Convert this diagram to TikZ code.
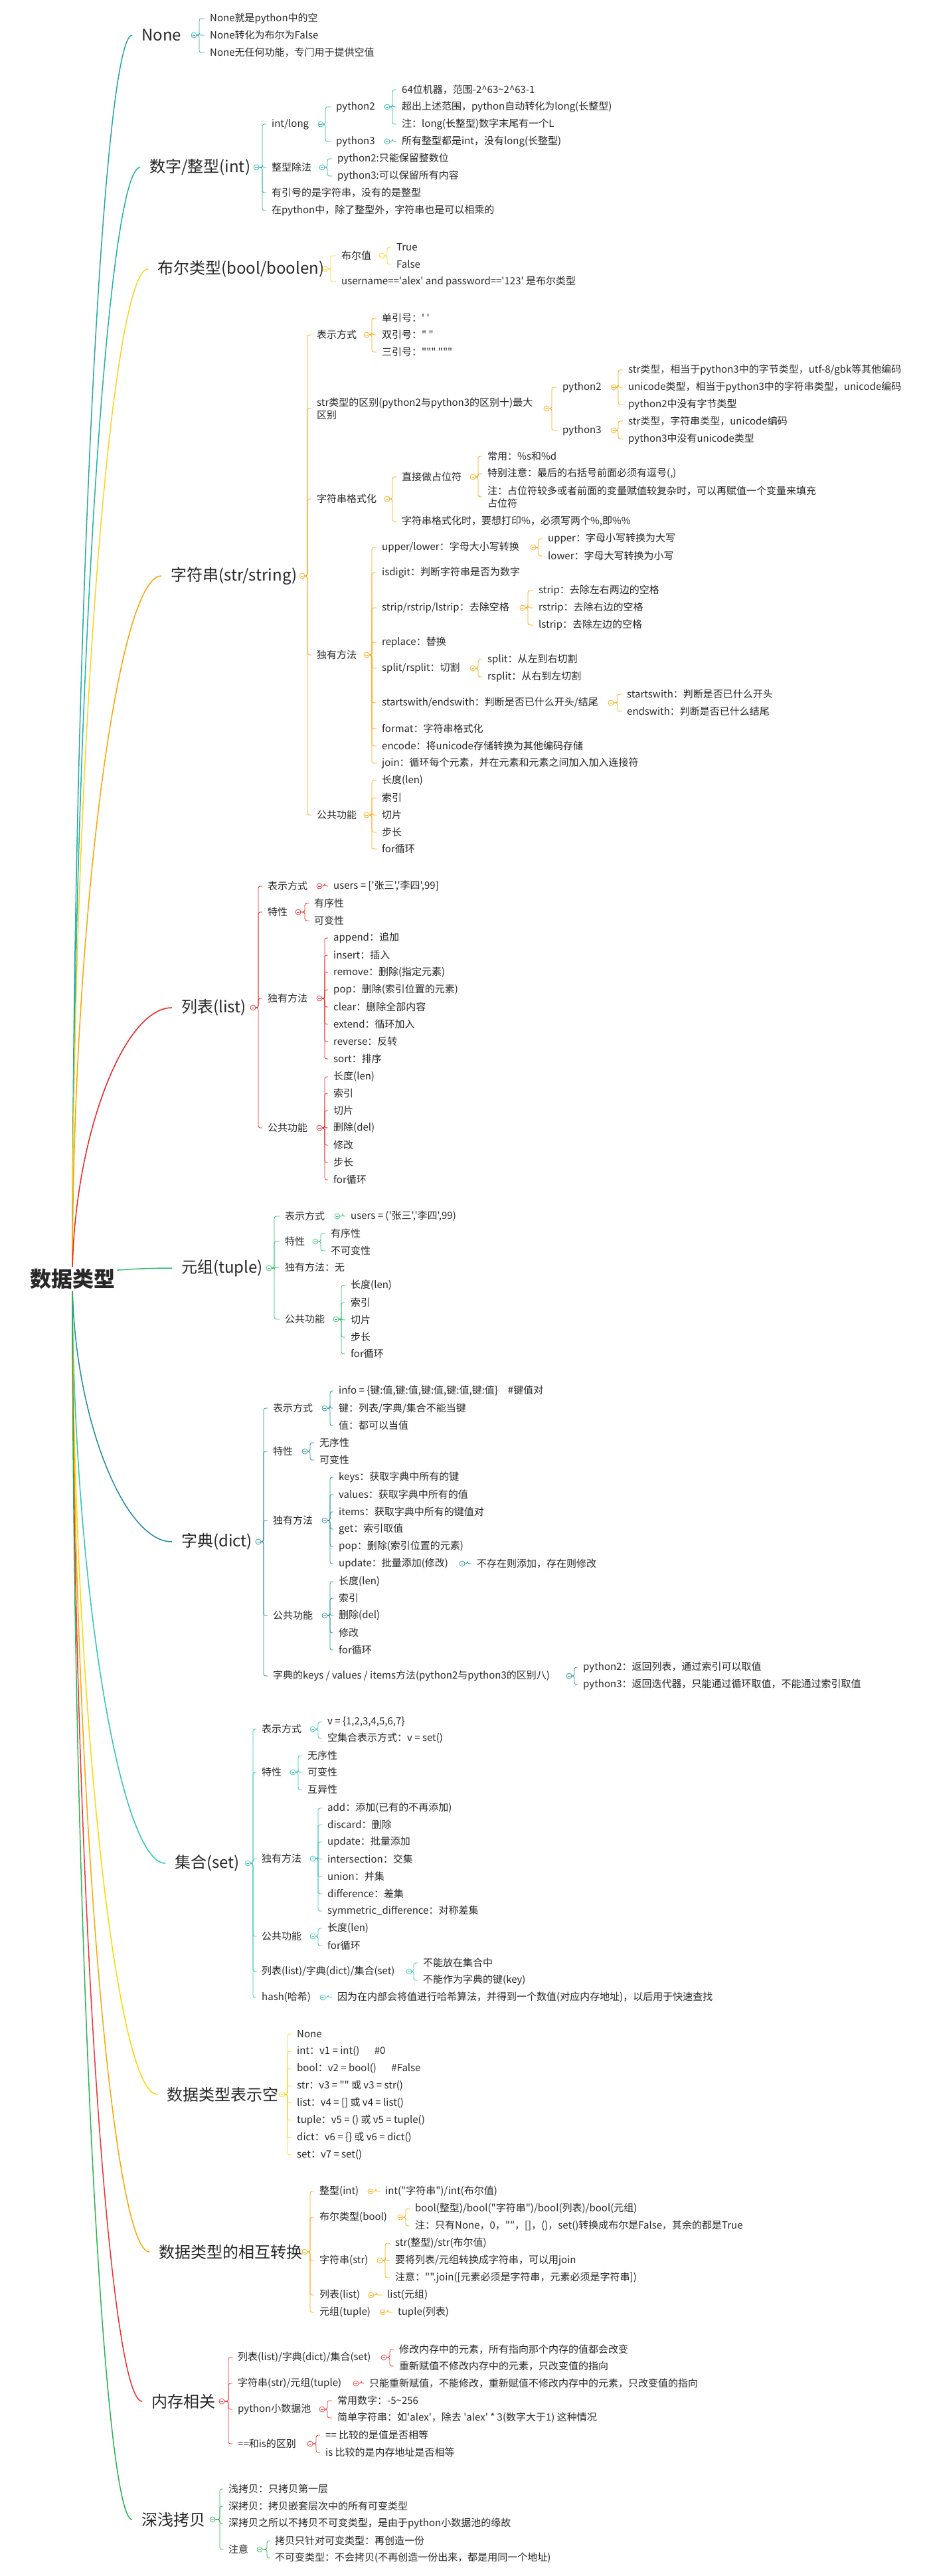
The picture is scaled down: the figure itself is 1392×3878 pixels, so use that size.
\documentclass[tikz,border=0pt]{standalone}
\usepackage{fontspec}
\newfontfamily\cjk{Noto Sans CJK SC}
\usetikzlibrary{calc,backgrounds}
\definecolor{txt}{RGB}{40,40,40}
\definecolor{cA}{HTML}{26A6A6}
\definecolor{cB}{HTML}{1FB3A0}
\definecolor{cC}{HTML}{FFD21F}
\definecolor{cD}{HTML}{FFA300}
\definecolor{cE}{HTML}{F02020}
\definecolor{cF}{HTML}{2DBE6C}
\definecolor{cG}{HTML}{1E8CA0}
\definecolor{cH}{HTML}{2EC4B6}
\definecolor{cI}{HTML}{FFD700}
\definecolor{cJ}{HTML}{FFA500}
\definecolor{cK}{HTML}{F03030}
\definecolor{cL}{HTML}{28B450}
\newcommand\fs{\cjk\fontsize{15}{19}\selectfont}
\newcommand\ft{\cjk\fontsize{24}{28}\selectfont}
\newcommand\fr{\cjk\bfseries\fontsize{32}{36}\selectfont}
\tikzset{
 leaf/.style={anchor=west,inner xsep=0pt,inner ysep=1pt,font=\fs,text=txt,align=left},
 topic/.style={anchor=west,inner sep=0pt,font=\ft,text=txt},
 mk/.style={circle,draw=#1,fill=white,line width=0.7pt,minimum size=8pt,inner sep=0pt,
   path picture={\draw[#1,line width=0.7pt] ([xshift=-2.2pt]path picture bounding box.center)--([xshift=2.2pt]path picture bounding box.center);}},
 br/.style={draw=#1,line width=0.8pt,rounded corners=3pt},
 mainline/.style={draw=#1,line width=1.5pt},
}
\newcommand\mkc[5]{\node[mk=#1] (#2-c) at (#3,#4) {}; \coordinate (#2-s) at (#5,#4);}
\newcommand\kids[3]{\foreach \k in {#3} {\draw[br=#1] (#2-c.east) -- (#2-c.east -| #2-s) -- (#2-s |- \k.west) -- ([xshift=-8pt]\k.west);}}
\newcommand\mainbr[2]{\draw[mainline=#1] let \p1=(root.center), \p2=([xshift=-14pt]#2.west) in (\p1) .. controls (\x1,{0.5*\y1+0.5*\y2}) and ({0.5*\x1+0.5*\x2},\y2) .. (\p2);}
\begin{document}
\begin{tikzpicture}[x=1pt,y=-1pt]
\useasboundingbox (0,0) rectangle (1392,3878);
% root
\node[font=\fr,text=txt,fill=white,inner sep=3pt] (root) at (109,1925) {数据类型};
% ---------- None
\node[topic] (none) at (213,53) {None};
\mkc{cA}{none}{292}{53}{300}
\node[leaf] (none1) at (316,28) {None就是python中的空};
\node[leaf] (none2) at (316,53) {None转化为布尔为False};
\node[leaf] (none3) at (316,79) {None无任何功能，专门用于提供空值};
\kids{cA}{none}{none1,none2,none3}
% ---------- 数字
\node[topic] (num) at (225,252) {数字/整型(int)};
\mkc{cB}{num}{386}{252}{395}
\node[leaf] (numA) at (409,187) {int/long};
\node[leaf] (numB) at (409,252) {整型除法};
\node[leaf] (numC) at (409,290) {有引号的是字符串，没有的是整型};
\node[leaf] (numD) at (409,317) {在python中，除了整型外，字符串也是可以相乘的};
\kids{cB}{num}{numA,numB,numC,numD}
\mkc{cB}{numA}{483}{187}{490}
\node[leaf] (numA1) at (506,161) {python2};
\node[leaf] (numA2) at (506,213) {python3};
\kids{cB}{numA}{numA1,numA2}
\mkc{cB}{numA1}{583}{161}{591}
\node[leaf] (numA1a) at (605,135) {64位机器，范围-2\textasciicircum63\textasciitilde2\textasciicircum63-1};
\node[leaf] (numA1b) at (605,161) {超出上述范围，python自动转化为long(长整型)};
\node[leaf] (numA1c) at (605,187) {注：long(长整型)数字末尾有一个L};
\kids{cB}{numA1}{numA1a,numA1b,numA1c}
\mkc{cB}{numA2}{583}{213}{591}
\node[leaf] (numA2a) at (605,213) {所有整型都是int，没有long(长整型)};
\kids{cB}{numA2}{numA2a}
\mkc{cB}{numB}{485}{252}{493}
\node[leaf] (numB1) at (508,239) {python2:只能保留整数位};
\node[leaf] (numB2) at (508,265) {python3:可以保留所有内容};
\kids{cB}{numB}{numB1,numB2}
% ---------- 布尔
\node[topic] (bool) at (237,405) {布尔类型(bool/boolen)};
\mkc{cC}{bool}{490}{405}{498}
\node[leaf] (boolA) at (514,385) {布尔值};
\node[leaf] (boolB) at (514,424) {username=='alex' and password=='123' 是布尔类型};
\kids{cC}{bool}{boolA,boolB}
\mkc{cC}{boolA}{575}{385}{583}
\node[leaf] (boolA1) at (597,372) {True};
\node[leaf] (boolA2) at (597,398) {False};
\kids{cC}{boolA}{boolA1,boolA2}
% ---------- 字符串
\node[topic] (str) at (257,867) {字符串(str/string)};
\mkc{cD}{str}{455}{867}{463}
\node[leaf] (strA) at (477,504) {表示方式};
\node[leaf] (strB) at (477,615) {str类型的区别(python2与python3的区别十)最大\\区别};
\node[leaf] (strC) at (477,751) {字符串格式化};
\node[leaf] (strD) at (477,986) {独有方法};
\node[leaf] (strE) at (477,1227) {公共功能};
\kids{cD}{str}{strA,strB,strC,strD,strE}
\mkc{cD}{strA}{552}{504}{560}
\node[leaf] (strA1) at (575,479) {单引号：' '};
\node[leaf] (strA2) at (575,504) {双引号：" "};
\node[leaf] (strA3) at (575,530) {三引号：""" """};
\kids{cD}{strA}{strA1,strA2,strA3}
\mkc{cD}{strB}{823}{615}{831}
\node[leaf] (strB1) at (847,583) {python2};
\node[leaf] (strB2) at (847,648) {python3};
\kids{cD}{strB}{strB1,strB2}
\mkc{cD}{strB1}{924}{583}{931}
\node[leaf] (strB1a) at (946,557) {str类型，相当于python3中的字节类型，utf-8/gbk等其他编码};
\node[leaf] (strB1b) at (946,583) {unicode类型，相当于python3中的字符串类型，unicode编码};
\node[leaf] (strB1c) at (946,609) {python2中没有字节类型};
\kids{cD}{strB1}{strB1a,strB1b,strB1c}
\mkc{cD}{strB2}{924}{648}{931}
\node[leaf] (strB2a) at (946,634) {str类型，字符串类型，unicode编码};
\node[leaf] (strB2b) at (946,661) {python3中没有unicode类型};
\kids{cD}{strB2}{strB2a,strB2b}
\mkc{cD}{strC}{583}{751}{591}
\node[leaf] (strC1) at (605,718) {直接做占位符};
\node[leaf] (strC2) at (605,785) {字符串格式化时，要想打印\%，必须写两个\%,即\%\%};
\kids{cD}{strC}{strC1,strC2}
\mkc{cD}{strC1}{712}{718}{720}
\node[leaf] (strC1a) at (734,687) {常用：\%s和\%d};
\node[leaf] (strC1b) at (734,713) {特别注意：最后的右括号前面必须有逗号(,)};
\node[leaf] (strC1c) at (734,748) {注：占位符较多或者前面的变量赋值较复杂时，可以再赋值一个变量来填充\\占位符};
\kids{cD}{strC1}{strC1a,strC1b,strC1c}
\mkc{cD}{strD}{552}{986}{560}
\node[leaf] (strD1) at (575,824) {upper/lower：字母大小写转换};
\node[leaf] (strD2) at (575,862) {isdigit：判断字符串是否为数字};
\node[leaf] (strD3) at (575,915) {strip/rstrip/lstrip：去除空格};
\node[leaf] (strD4) at (575,967) {replace：替换};
\node[leaf] (strD5) at (575,1006) {split/rsplit：切割};
\node[leaf] (strD6) at (575,1058) {startswith/endswith：判断是否已什么开头/结尾};
\node[leaf] (strD7) at (575,1097) {format：字符串格式化};
\node[leaf] (strD8) at (575,1123) {encode：将unicode存储转换为其他编码存储};
\node[leaf] (strD9) at (575,1149) {join：循环每个元素，并在元素和元素之间加入加入连接符};
\kids{cD}{strD}{strD1,strD2,strD3,strD4,strD5,strD6,strD7,strD8,strD9}
\mkc{cD}{strD1}{803}{824}{811}
\node[leaf] (strD1a) at (825,811) {upper：字母小写转换为大写};
\node[leaf] (strD1b) at (825,837) {lower：字母大写转换为小写};
\kids{cD}{strD1}{strD1a,strD1b}
\mkc{cD}{strD3}{787}{915}{795}
\node[leaf] (strD3a) at (811,889) {strip：去除左右两边的空格};
\node[leaf] (strD3b) at (811,915) {rstrip：去除右边的空格};
\node[leaf] (strD3c) at (811,941) {lstrip：去除左边的空格};
\kids{cD}{strD3}{strD3a,strD3b,strD3c}
\mkc{cD}{strD5}{712}{1006}{720}
\node[leaf] (strD5a) at (734,993) {split：从左到右切割};
\node[leaf] (strD5b) at (734,1019) {rsplit：从右到左切割};
\kids{cD}{strD5}{strD5a,strD5b}
\mkc{cD}{strD6}{920}{1058}{930}
\node[leaf] (strD6a) at (944,1045) {startswith：判断是否已什么开头};
\node[leaf] (strD6b) at (944,1071) {endswith：判断是否已什么结尾};
\kids{cD}{strD6}{strD6a,strD6b}
\mkc{cD}{strE}{552}{1227}{560}
\node[leaf] (strE1) at (575,1175) {长度(len)};
\node[leaf] (strE2) at (575,1201) {索引};
\node[leaf] (strE3) at (575,1227) {切片};
\node[leaf] (strE4) at (575,1253) {步长};
\node[leaf] (strE5) at (575,1278) {for循环};
\kids{cD}{strE}{strE1,strE2,strE3,strE4,strE5}
% ---------- 列表
\node[topic] (list) at (273,1517) {列表(list)};
\mkc{cE}{list}{381}{1517}{389}
\node[leaf] (listA) at (403,1334) {表示方式};
\node[leaf] (listB) at (403,1373) {特性};
\node[leaf] (listC) at (403,1503) {独有方法};
\node[leaf] (listD) at (403,1698) {公共功能};
\kids{cE}{list}{listA,listB,listC,listD}
\mkc{cE}{listA}{481}{1334}{489}
\node[leaf] (listA1) at (502,1334) {users = ['张三','李四',99]};
\kids{cE}{listA}{listA1}
\mkc{cE}{listB}{449}{1373}{459}
\node[leaf] (listB1) at (473,1360) {有序性};
\node[leaf] (listB2) at (473,1386) {可变性};
\kids{cE}{listB}{listB1,listB2}
\mkc{cE}{listC}{481}{1503}{489}
\node[leaf] (listC1) at (502,1412) {append：追加};
\node[leaf] (listC2) at (502,1438) {insert：插入};
\node[leaf] (listC3) at (502,1464) {remove：删除(指定元素)};
\node[leaf] (listC4) at (502,1490) {pop：删除(索引位置的元素)};
\node[leaf] (listC5) at (502,1516) {clear：删除全部内容};
\node[leaf] (listC6) at (502,1542) {extend：循环加入};
\node[leaf] (listC7) at (502,1568) {reverse：反转};
\node[leaf] (listC8) at (502,1594) {sort：排序};
\kids{cE}{listC}{listC1,listC2,listC3,listC4,listC5,listC6,listC7,listC8}
\mkc{cE}{listD}{481}{1698}{489}
\node[leaf] (listD1) at (502,1621) {长度(len)};
\node[leaf] (listD2) at (502,1646) {索引};
\node[leaf] (listD3) at (502,1672) {切片};
\node[leaf] (listD4) at (502,1698) {删除(del)};
\node[leaf] (listD5) at (502,1724) {修改};
\node[leaf] (listD6) at (502,1750) {步长};
\node[leaf] (listD7) at (502,1776) {for循环};
\kids{cE}{listD}{listD1,listD2,listD3,listD4,listD5,listD6,listD7}
% ---------- 元组
\node[topic] (tup) at (273,1909) {元组(tuple)};
\mkc{cF}{tup}{405}{1909}{413}
\node[leaf] (tupA) at (429,1831) {表示方式};
\node[leaf] (tupB) at (429,1869) {特性};
\node[leaf] (tupC) at (429,1908) {独有方法：无};
\node[leaf] (tupD) at (429,1986) {公共功能};
\kids{cF}{tup}{tupA,tupB,tupC,tupD}
\mkc{cF}{tupA}{508}{1831}{516}
\node[leaf] (tupA1) at (528,1831) {users = ('张三','李四',99)};
\kids{cF}{tupA}{tupA1}
\mkc{cF}{tupB}{475}{1869}{483}
\node[leaf] (tupB1) at (498,1857) {有序性};
\node[leaf] (tupB2) at (498,1883) {不可变性};
\kids{cF}{tupB}{tupB1,tupB2}
\mkc{cF}{tupD}{506}{1986}{514}
\node[leaf] (tupD1) at (528,1935) {长度(len)};
\node[leaf] (tupD2) at (528,1961) {索引};
\node[leaf] (tupD3) at (528,1987) {切片};
\node[leaf] (tupD4) at (528,2013) {步长};
\node[leaf] (tupD5) at (528,2038) {for循环};
\kids{cF}{tupD}{tupD1,tupD2,tupD3,tupD4,tupD5}
% ---------- 字典
\node[topic] (dict) at (273,2321) {字典(dict)};
\mkc{cG}{dict}{389}{2321}{397}
\node[leaf] (dictA) at (411,2120) {表示方式};
\node[leaf] (dictB) at (411,2185) {特性};
\node[leaf] (dictC) at (411,2289) {独有方法};
\node[leaf] (dictD) at (411,2432) {公共功能};
\node[leaf] (dictE) at (411,2523) {字典的keys / values / items方法(python2与python3的区别八)};
\kids{cG}{dict}{dictA,dictB,dictC,dictD,dictE}
\mkc{cG}{dictA}{489}{2120}{497}
\node[leaf] (dictA1) at (510,2094) {info = \{键:值,键:值,键:值,键:值,键:值\}\hspace{1em}\#键值对};
\node[leaf] (dictA2) at (510,2120) {键：列表/字典/集合不能当键};
\node[leaf] (dictA3) at (510,2146) {值：都可以当值};
\kids{cG}{dictA}{dictA1,dictA2,dictA3}
\mkc{cG}{dictB}{459}{2185}{467}
\node[leaf] (dictB1) at (481,2172) {无序性};
\node[leaf] (dictB2) at (481,2198) {可变性};
\kids{cG}{dictB}{dictB1,dictB2}
\mkc{cG}{dictC}{489}{2289}{497}
\node[leaf] (dictC1) at (510,2224) {keys：获取字典中所有的键};
\node[leaf] (dictC2) at (510,2250) {values：获取字典中所有的值};
\node[leaf] (dictC3) at (510,2276) {items：获取字典中所有的键值对};
\node[leaf] (dictC4) at (510,2302) {get：索引取值};
\node[leaf] (dictC5) at (510,2328) {pop：删除(索引位置的元素)};
\node[leaf] (dictC6) at (510,2354) {update：批量添加(修改)};
\kids{cG}{dictC}{dictC1,dictC2,dictC3,dictC4,dictC5,dictC6}
\mkc{cG}{dictC6}{696}{2354}{704}
\node[leaf] (dictC6a) at (718,2354) {不存在则添加，存在则修改};
\kids{cG}{dictC6}{dictC6a}
\mkc{cG}{dictD}{489}{2432}{497}
\node[leaf] (dictD1) at (510,2381) {长度(len)};
\node[leaf] (dictD2) at (510,2406) {索引};
\node[leaf] (dictD3) at (510,2432) {删除(del)};
\node[leaf] (dictD4) at (510,2458) {修改};
\node[leaf] (dictD5) at (510,2484) {for循环};
\kids{cG}{dictD}{dictD1,dictD2,dictD3,dictD4,dictD5}
\mkc{cG}{dictE}{857}{2523}{865}
\node[leaf] (dictE1) at (878,2510) {python2：返回列表，通过索引可以取值};
\node[leaf] (dictE2) at (878,2536) {python3：返回迭代器，只能通过循环取值，不能通过索引取值};
\kids{cG}{dictE}{dictE1,dictE2}
% ---------- 集合
\node[topic] (set) at (263,2805) {集合(set)};
\mkc{cH}{set}{373}{2805}{381}
\node[leaf] (setA) at (394,2603) {表示方式};
\node[leaf] (setB) at (394,2668) {特性};
\node[leaf] (setC) at (394,2798) {独有方法};
\node[leaf] (setD) at (394,2915) {公共功能};
\node[leaf] (setE) at (394,2968) {列表(list)/字典(dict)/集合(set)};
\node[leaf] (setF) at (394,3007) {hash(哈希)};
\kids{cH}{set}{setA,setB,setC,setD,setE,setF}
\mkc{cH}{setA}{471}{2603}{479}
\node[leaf] (setA1) at (493,2592) {v = \{1,2,3,4,5,6,7\}};
\node[leaf] (setA2) at (493,2617) {空集合表示方式：v = set()};
\kids{cH}{setA}{setA1,setA2}
\mkc{cH}{setB}{441}{2668}{449}
\node[leaf] (setB1) at (463,2643) {无序性};
\node[leaf] (setB2) at (463,2668) {可变性};
\node[leaf] (setB3) at (463,2694) {互异性};
\kids{cH}{setB}{setB1,setB2,setB3}
\mkc{cH}{setC}{471}{2798}{479}
\node[leaf] (setC1) at (493,2722) {add：添加(已有的不再添加)};
\node[leaf] (setC2) at (493,2747) {discard：删除};
\node[leaf] (setC3) at (493,2773) {update：批量添加};
\node[leaf] (setC4) at (493,2799) {intersection：交集};
\node[leaf] (setC5) at (493,2825) {union：并集};
\node[leaf] (setC6) at (493,2851) {difference：差集};
\node[leaf] (setC7) at (493,2877) {symmetric\_difference：对称差集};
\kids{cH}{setC}{setC1,setC2,setC3,setC4,setC5,setC6,setC7}
\mkc{cH}{setD}{471}{2915}{479}
\node[leaf] (setD1) at (493,2903) {长度(len)};
\node[leaf] (setD2) at (493,2929) {for循环};
\kids{cH}{setD}{setD1,setD2}
\mkc{cH}{setE}{616}{2968}{623}
\node[leaf] (setE1) at (637,2955) {不能放在集合中};
\node[leaf] (setE2) at (637,2981) {不能作为字典的键(key)};
\kids{cH}{setE}{setE1,setE2}
\mkc{cH}{setF}{486}{3007}{494}
\node[leaf] (setF1) at (508,3007) {因为在内部会将值进行哈希算法，并得到一个数值(对应内存地址)，以后用于快速查找};
\kids{cH}{setF}{setF1}
% ---------- 表示空
\node[topic] (emp) at (251,3153) {数据类型表示空};
\mkc{cI}{emp}{425}{3153}{433}
\node[leaf] (emp1) at (447,3062) {None};
\node[leaf] (emp2) at (447,3088) {int：v1 = int()\hspace{1.5em}\#0};
\node[leaf] (emp3) at (447,3114) {bool：v2 = bool()\hspace{1.5em}\#False};
\node[leaf] (emp4) at (447,3140) {str：v3 = "" 或 v3 = str()};
\node[leaf] (emp5) at (447,3166) {list：v4 = [] 或 v4 = list()};
\node[leaf] (emp6) at (447,3192) {tuple：v5 = () 或 v5 = tuple()};
\node[leaf] (emp7) at (447,3218) {dict：v6 = \{\} 或 v6 = dict()};
\node[leaf] (emp8) at (447,3244) {set：v7 = set()};
\kids{cI}{emp}{emp1,emp2,emp3,emp4,emp5,emp6,emp7,emp8}
% ---------- 相互转换
\node[topic] (conv) at (239,3390) {数据类型的相互转换};
\mkc{cJ}{conv}{459}{3390}{467}
\node[leaf] (convA) at (481,3299) {整型(int)};
\node[leaf] (convB) at (481,3338) {布尔类型(bool)};
\node[leaf] (convC) at (481,3403) {字符串(str)};
\node[leaf] (convD) at (481,3455) {列表(list)};
\node[leaf] (convE) at (481,3481) {元组(tuple)};
\kids{cJ}{conv}{convA,convB,convC,convD,convE}
\mkc{cJ}{convA}{558}{3299}{566}
\node[leaf] (convA1) at (580,3299) {int("字符串")/int(布尔值)};
\kids{cJ}{convA}{convA1}
\mkc{cJ}{convB}{603}{3338}{611}
\node[leaf] (convB1) at (625,3325) {bool(整型)/bool("字符串")/bool(列表)/bool(元组)};
\node[leaf] (convB2) at (625,3351) {注：只有None，0，""，[]，()，set()转换成布尔是False，其余的都是True};
\kids{cJ}{convB}{convB1,convB2}
\mkc{cJ}{convC}{572}{3403}{580}
\node[leaf] (convC1) at (595,3377) {str(整型)/str(布尔值)};
\node[leaf] (convC2) at (595,3403) {要将列表/元组转换成字符串，可以用join};
\node[leaf] (convC3) at (595,3429) {注意："".join([元素必须是字符串，元素必须是字符串])};
\kids{cJ}{convC}{convC1,convC2,convC3}
\mkc{cJ}{convD}{559}{3455}{567}
\node[leaf] (convD1) at (583,3455) {list(元组)};
\kids{cJ}{convD}{convD1}
\mkc{cJ}{convE}{576}{3481}{584}
\node[leaf] (convE1) at (599,3481) {tuple(列表)};
\kids{cJ}{convE}{convE1}
% ---------- 内存相关
\node[topic] (mem) at (228,3615) {内存相关};
\mkc{cK}{mem}{334}{3615}{344}
\node[leaf] (memA) at (358,3549) {列表(list)/字典(dict)/集合(set)};
\node[leaf] (memB) at (358,3588) {字符串(str)/元组(tuple)};
\node[leaf] (memC) at (358,3627) {python小数据池};
\node[leaf] (memD) at (358,3679) {==和is的区别};
\kids{cK}{mem}{memA,memB,memC,memD}
\mkc{cK}{memA}{578}{3549}{587}
\node[leaf] (memA1) at (601,3537) {修改内存中的元素，所有指向那个内存的值都会改变};
\node[leaf] (memA2) at (601,3562) {重新赋值不修改内存中的元素，只改变值的指向};
\kids{cK}{memA}{memA1,memA2}
\mkc{cK}{memB}{536}{3588}{544}
\node[leaf] (memB1) at (556,3588) {只能重新赋值，不能修改，重新赋值不修改内存中的元素，只改变值的指向};
\kids{cK}{memB}{memB1}
\mkc{cK}{memC}{485}{3627}{493}
\node[leaf] (memC1) at (508,3614) {常用数字：-5\textasciitilde256};
\node[leaf] (memC2) at (508,3640) {简单字符串：如'alex'，除去 'alex' * 3(数字大于1) 这种情况};
\kids{cK}{memC}{memC1,memC2}
\mkc{cK}{memD}{467}{3679}{476}
\node[leaf] (memD1) at (490,3666) {== 比较的是值是否相等};
\node[leaf] (memD2) at (490,3692) {is 比较的是内存地址是否相等};
\kids{cK}{memD}{memD1,memD2}
% ---------- 深浅拷贝
\node[topic] (copy) at (213,3793) {深浅拷贝};
\mkc{cL}{copy}{320}{3793}{331}
\node[leaf] (copyA) at (344,3747) {浅拷贝：只拷贝第一层};
\node[leaf] (copyB) at (344,3773) {深拷贝：拷贝嵌套层次中的所有可变类型};
\node[leaf] (copyC) at (344,3799) {深拷贝之所以不拷贝不可变类型，是由于python小数据池的缘故};
\node[leaf] (copyD) at (344,3838) {注意};
\kids{cL}{copy}{copyA,copyB,copyC,copyD}
\mkc{cL}{copyD}{391}{3838}{402}
\node[leaf] (copyD1) at (414,3825) {拷贝只针对可变类型：再创造一份};
\node[leaf] (copyD2) at (414,3851) {不可变类型：不会拷贝(不再创造一份出来，都是用同一个地址)};
\kids{cL}{copyD}{copyD1,copyD2}
% ---------- main branches
\begin{pgfonlayer}{background}
\fill[white] (0,0) rectangle (1392,3878);
\mainbr{cA}{none}
\mainbr{cB}{num}
\mainbr{cC}{bool}
\mainbr{cD}{str}
\mainbr{cE}{list}
\mainbr{cF}{tup}
\mainbr{cG}{dict}
\mainbr{cH}{set}
\mainbr{cI}{emp}
\mainbr{cJ}{conv}
\mainbr{cK}{mem}
\mainbr{cL}{copy}
\end{pgfonlayer}
\end{tikzpicture}
\end{document}
